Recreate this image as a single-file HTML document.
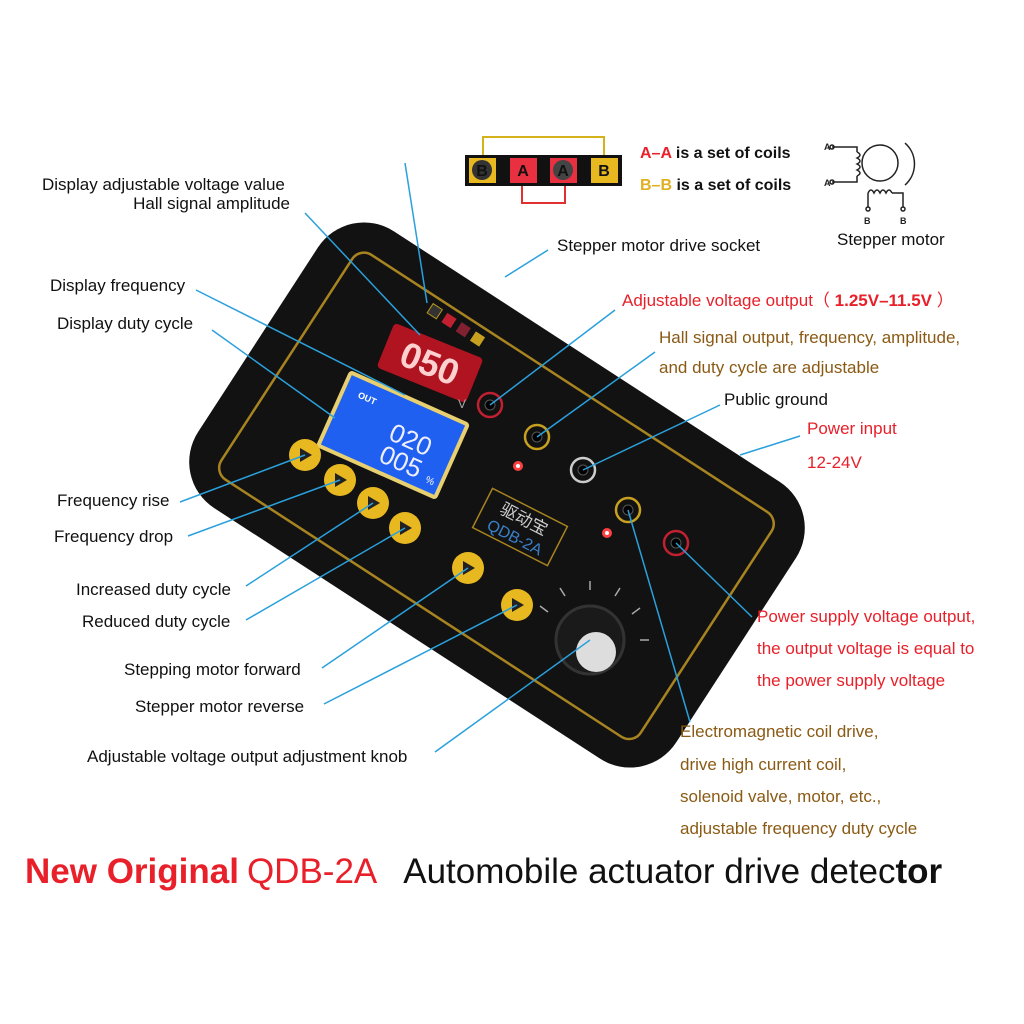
<!DOCTYPE html>
<html><head><meta charset="utf-8"><style>
html,body{margin:0;padding:0;background:#fff;}
svg{display:block;}
text{font-family:"Liberation Sans","Noto Sans CJK SC",sans-serif;}
</style></head><body>
<svg width="1024" height="1024" viewBox="0 0 1024 1024" xmlns="http://www.w3.org/2000/svg">
<rect width="1024" height="1024" fill="#fff"/>

<polyline points="483,155 483,137 604,137 604,155" fill="none" stroke="#d4b21c" stroke-width="2"/>
<polyline points="522,186 522,203 565,203 565,186" fill="none" stroke="#e03030" stroke-width="2"/>
<rect x="465" y="155" width="157" height="31" fill="#111"/>
<rect x="469" y="158" width="27" height="25" fill="#e8b820"/>
<circle cx="482" cy="170" r="10" fill="#333"/><text x="482" y="176" font-size="16" font-weight="bold" text-anchor="middle" fill="#111">B</text>
<rect x="510" y="158" width="27" height="25" fill="#e83040"/><text x="523" y="176" font-size="16" font-weight="bold" text-anchor="middle" fill="#111">A</text>
<rect x="550" y="158" width="27" height="25" fill="#e83040"/>
<circle cx="563" cy="170" r="10" fill="#444"/><text x="563" y="176" font-size="16" font-weight="bold" text-anchor="middle" fill="#111">A</text>
<rect x="591" y="158" width="27" height="25" fill="#e8b820"/><text x="604" y="176" font-size="16" font-weight="bold" text-anchor="middle" fill="#111">B</text>

<text x="640" y="158" font-size="16" font-weight="bold" fill="#111"><tspan fill="#e8202a">A–A</tspan> is a set of coils</text>
<text x="640" y="190" font-size="16" font-weight="bold" fill="#111"><tspan fill="#e0b020">B–B</tspan> is a set of coils</text>

<g stroke="#222" stroke-width="1.5" fill="none">
<circle cx="880" cy="163" r="18"/>
<path d="M905,143 A28,28 0 0 1 905,185"/>
<polyline points="832,147 857,147 857,152"/>
<path d="M857,152 q6,3 0,6 q6,3 0,6 q6,3 0,6 q6,3 0,6"/>
<polyline points="857,176 857,182 832,182"/>
<polyline points="868,207 868,193"/>
<path d="M868,193 q3,-6 6,0 q3,-6 6,0 q3,-6 6,0 q3,-6 6,0"/>
<polyline points="892,193 903,193 903,207"/>
<circle cx="868" cy="209" r="2"/><circle cx="903" cy="209" r="2"/>
<circle cx="832" cy="147" r="2"/><circle cx="832" cy="182" r="2"/>
</g>
<text x="824" y="150" font-size="9" font-weight="bold" fill="#222">A</text>
<text x="824" y="186" font-size="9" font-weight="bold" fill="#222">A</text>
<text x="864" y="224" font-size="9" font-weight="bold" fill="#222">B</text>
<text x="900" y="224" font-size="9" font-weight="bold" fill="#222">B</text>
<text x="837" y="245" font-size="17" fill="#111">Stepper motor</text>

<g transform="translate(497,495) rotate(33)">
<rect x="-285" y="-165" width="570" height="330" rx="55" fill="#121212"/>
<rect x="-250" y="-133" width="500" height="268" rx="14" fill="none" stroke="#a88420" stroke-width="2.5"/>
</g>
<g transform="translate(455,325) rotate(33)">
<rect x="-30" y="-6" width="11" height="11" fill="#333" stroke="#b8961e"/>
<rect x="-13" y="-6" width="11" height="11" fill="#c02030"/>
<rect x="4" y="-6" width="11" height="11" fill="#802030"/>
<rect x="21" y="-6" width="11" height="11" fill="#c8a020"/>
</g>
<g transform="translate(430,363) rotate(22)">
<rect x="-48" y="-24" width="96" height="48" rx="4" fill="#b01420"/>
<text x="0" y="13" font-size="36" font-weight="bold" text-anchor="middle" fill="#ffd0d0" font-family="Liberation Mono">050</text>
</g>
<text x="458" y="408" font-size="12" fill="#aaa">V</text>
<g transform="translate(393,435) rotate(24)">
<rect x="-66" y="-42" width="132" height="84" rx="4" fill="#e8d070"/>
<rect x="-62" y="-38" width="124" height="76" fill="#2060f0"/>
<text x="-48" y="-20" font-size="9" font-weight="bold" fill="#fff">OUT</text>
<text x="18" y="6" font-size="26" text-anchor="middle" fill="#eef" font-family="Liberation Mono">020</text>
<text x="18" y="30" font-size="26" text-anchor="middle" fill="#eef" font-family="Liberation Mono">005</text>
<text x="48" y="30" font-size="10" fill="#fff">%</text>
</g>
<g fill="#e8b820">
<circle cx="305" cy="455" r="16"/><circle cx="340" cy="480" r="16"/>
<circle cx="373" cy="503" r="16"/><circle cx="405" cy="528" r="16"/>
<circle cx="468" cy="568" r="16"/><circle cx="517" cy="605" r="16"/>
</g>
<g fill="#222">
<polygon points="300,448 300,462 312,455"/><polygon points="335,473 335,487 347,480"/>
<polygon points="368,496 368,510 380,503"/><polygon points="400,521 400,535 412,528"/>
<polygon points="463,561 463,575 475,568"/><polygon points="512,598 512,612 524,605"/>
</g>
<circle cx="490" cy="405" r="12" fill="#111" stroke="#c02030" stroke-width="2.5"/><circle cx="490" cy="405" r="5" fill="#000" stroke="#555"/>
<circle cx="537" cy="437" r="12" fill="#111" stroke="#c8a020" stroke-width="2.5"/><circle cx="537" cy="437" r="5" fill="#000" stroke="#555"/>
<circle cx="583" cy="470" r="12" fill="#111" stroke="#ccc" stroke-width="2.5"/><circle cx="583" cy="470" r="5" fill="#000" stroke="#555"/>
<circle cx="628" cy="510" r="12" fill="#111" stroke="#c8a020" stroke-width="2.5"/><circle cx="628" cy="510" r="5" fill="#000" stroke="#555"/>
<circle cx="676" cy="543" r="12" fill="#111" stroke="#c02030" stroke-width="2.5"/><circle cx="676" cy="543" r="5" fill="#000" stroke="#555"/>
<circle cx="518" cy="466" r="5" fill="#ff4040"/><circle cx="518" cy="466" r="2" fill="#fff"/>
<circle cx="607" cy="533" r="5" fill="#ff4040"/><circle cx="607" cy="533" r="2" fill="#fff"/>
<g transform="translate(520,527) rotate(27)">
<rect x="-42" y="-22" width="84" height="44" fill="none" stroke="#a88420" stroke-width="1.5"/>
<text x="0" y="-3" font-size="17" text-anchor="middle" fill="#ccc">驱动宝</text>
<text x="0" y="17" font-size="16" text-anchor="middle" fill="#3a80c8">QDB-2A</text>
</g>
<circle cx="590" cy="640" r="34" fill="#1a1a1a" stroke="#333" stroke-width="3"/>
<circle cx="596" cy="652" r="20" fill="#ddd"/>
<g stroke="#aaa" stroke-width="1.5">
<line x1="548" y1="612" x2="540" y2="606"/><line x1="565" y1="596" x2="560" y2="588"/>
<line x1="590" y1="590" x2="590" y2="581"/><line x1="615" y1="596" x2="620" y2="588"/>
<line x1="632" y1="614" x2="640" y2="608"/><line x1="640" y1="640" x2="649" y2="640"/>
</g>

<g stroke="#2aa0dc" stroke-width="1.5" fill="none">
<line x1="305" y1="213" x2="420" y2="335"/>
<line x1="405" y1="163" x2="427" y2="303"/>
<line x1="548" y1="250" x2="505" y2="277"/>
<line x1="196" y1="290" x2="405" y2="395"/>
<line x1="212" y1="330" x2="335" y2="418"/>
<line x1="615" y1="310" x2="490" y2="405"/>
<line x1="655" y1="352" x2="537" y2="437"/>
<line x1="720" y1="405" x2="583" y2="470"/>
<line x1="800" y1="436" x2="740" y2="455"/>
<line x1="180" y1="502" x2="305" y2="455"/>
<line x1="188" y1="536" x2="340" y2="480"/>
<line x1="246" y1="586" x2="373" y2="503"/>
<line x1="246" y1="620" x2="405" y2="528"/>
<line x1="322" y1="668" x2="468" y2="568"/>
<line x1="324" y1="704" x2="517" y2="605"/>
<line x1="435" y1="752" x2="590" y2="640"/>
<line x1="752" y1="617" x2="676" y2="543"/>
<line x1="690" y1="722" x2="628" y2="510"/>
</g>

<g font-size="17" fill="#111">
<text x="42" y="190">Display adjustable voltage value</text>
<text x="290" y="209" text-anchor="end">Hall signal amplitude</text>
<text x="557" y="251">Stepper motor drive socket</text>
<text x="50" y="291">Display frequency</text>
<text x="57" y="329">Display duty cycle</text>
<text x="724" y="405">Public ground</text>
<text x="57" y="506">Frequency rise</text>
<text x="54" y="542">Frequency drop</text>
<text x="76" y="595">Increased duty cycle</text>
<text x="82" y="627">Reduced duty cycle</text>
<text x="124" y="675">Stepping motor forward</text>
<text x="135" y="712">Stepper motor reverse</text>
<text x="87" y="762">Adjustable voltage output adjustment knob</text>
</g>
<g font-size="17" fill="#e8202a">
<text x="622" y="306">Adjustable voltage output（ <tspan font-weight="bold">1.25V–11.5V</tspan> ）</text>
<text x="807" y="434">Power input</text>
<text x="807" y="468">12-24V</text>
<text x="757" y="622">Power supply voltage output,</text>
<text x="757" y="654">the output voltage is equal to</text>
<text x="757" y="686">the power supply voltage</text>
</g>
<g font-size="17" fill="#8a5a14">
<text x="659" y="343">Hall signal output, frequency, amplitude,</text>
<text x="659" y="373">and duty cycle are adjustable</text>
<text x="680" y="737">Electromagnetic coil drive,</text>
<text x="680" y="770">drive high current coil,</text>
<text x="680" y="802">solenoid valve, motor, etc.,</text>
<text x="680" y="834">adjustable frequency duty cycle</text>
</g>

<text x="25" y="883" font-size="35" fill="#111"><tspan fill="#e8202a" font-weight="bold">New Original</tspan><tspan fill="#e8202a" dx="8">QDB-2A</tspan><tspan dx="26">Automobile actuator drive detec</tspan><tspan font-weight="bold">tor</tspan></text>
</svg>
</body></html>
